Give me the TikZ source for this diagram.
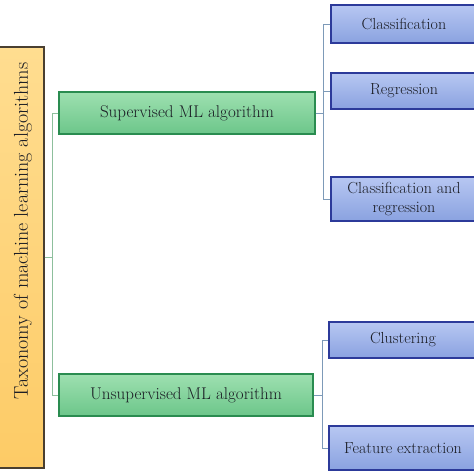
\documentclass[tikz,border=0pt]{standalone}
\usetikzlibrary{shadings}
\definecolor{orfillA}{HTML}{FFDD90}
\definecolor{orfillB}{HTML}{FDCB66}
\definecolor{ordraw}{HTML}{4A3F30}
\definecolor{grfillA}{HTML}{9EE0B0}
\definecolor{grfillB}{HTML}{6CC68A}
\definecolor{grdraw}{HTML}{2A8C50}
\definecolor{blfillA}{HTML}{B7C7F2}
\definecolor{blfillB}{HTML}{8AA2E0}
\definecolor{bldraw}{HTML}{2C3A9A}
\definecolor{grline}{HTML}{8DBF9C}
\definecolor{blline}{HTML}{7D9AB8}
\definecolor{txt}{HTML}{1A1C24}
\begin{document}
\begin{tikzpicture}[x=1pt,y=-1pt,
  box/.style={rectangle,inner sep=0pt,align=center,text=txt,font=\fontsize{17}{20}\selectfont,line width=1.2pt},
  taxbox/.style={box,draw=ordraw,top color=orfillA,bottom color=orfillB},
  mlbox/.style={box,draw=grdraw,top color=grfillA,bottom color=grfillB},
  leaf/.style={box,draw=bldraw,top color=blfillA,bottom color=blfillB,font=\fontsize{16}{20}\selectfont},
  gconn/.style={draw=grline,line width=0.9pt},
  bconn/.style={draw=blline,line width=0.9pt}]
\useasboundingbox (0,0) rectangle (474,474);
\node[taxbox,minimum width=54,minimum height=421] (tax) at (17,257.5) {};
\node[rotate=90,text=txt,font=\fontsize{20}{24}\selectfont] (taxt) at (23,231) {Taxonomy of machine learning algorithms};
\node[mlbox,minimum width=256,minimum height=42] (sup) at (187,113) {Supervised ML algorithm};
\node[mlbox,minimum width=254,minimum height=42] (unsup) at (186,395) {Unsupervised ML algorithm};
\node[leaf,minimum width=146,minimum height=38] (cls) at (404,24) {Classification};
\node[leaf,minimum width=146,minimum height=36] (reg) at (404,91) {Regression};
\node[leaf,minimum width=146,minimum height=44] (clsreg) at (404,199) {Classification and\\[-1pt]regression};
\node[leaf,minimum width=148,minimum height=36] (clu) at (403,340) {Clustering};
\node[leaf,minimum width=148,minimum height=44] (fe) at (403,448) {Feature extraction};
% connectors
\draw[gconn] (tax.east) -- ++(8,0) coordinate (j1);
\draw[gconn] (sup.west) -| (j1) |- (unsup.west);
\draw[bconn] (sup.east) -- ++(8,0) coordinate (j2);
\draw[bconn] (cls.west) -| (j2) |- (clsreg.west);
\draw[bconn] (j2 |- reg.west) -- (reg.west);
\draw[bconn] (unsup.east) -- ++(9,0) coordinate (j3);
\draw[bconn] (clu.west) -| (j3) |- (fe.west);
\end{tikzpicture}
\end{document}
